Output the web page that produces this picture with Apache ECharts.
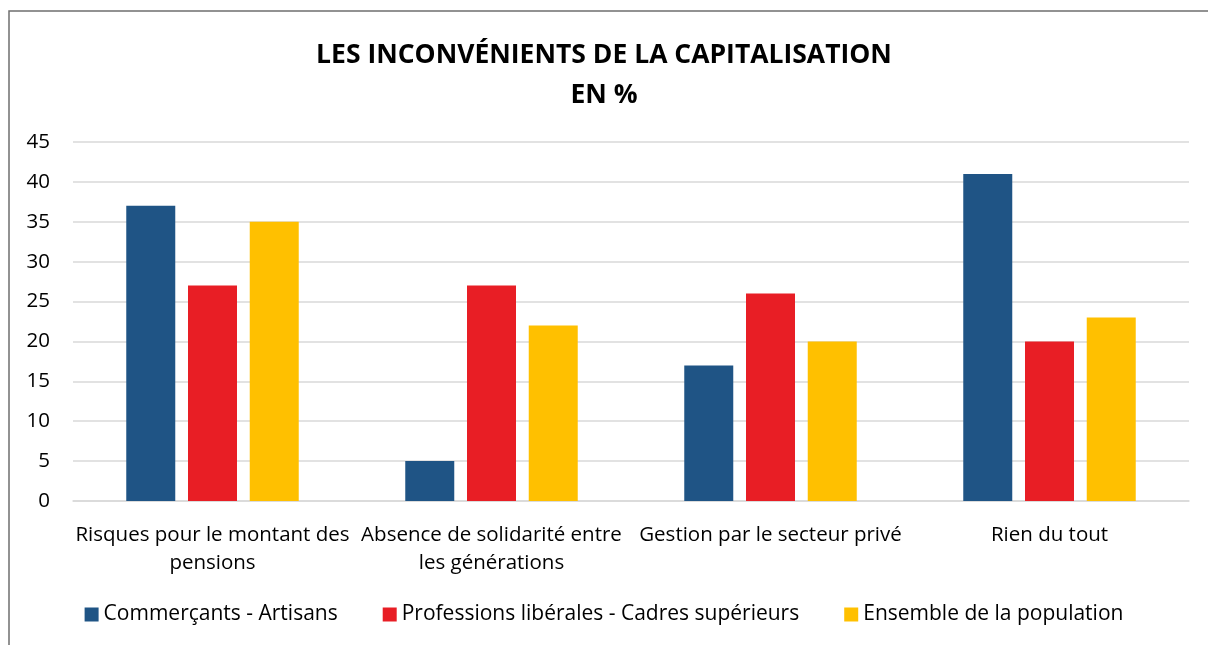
<!DOCTYPE html>
<html lang="fr">
<head>
    <meta charset="UTF-8" />
    <title>Les inconvénients de la capitalisation</title>
    <script src="https://cdn.jsdelivr.net/npm/echarts@6/dist/echarts.min.js"></script>
    <style>
        html, body { margin: 0; padding: 0; background: #fff; }
        #main { width: 1208px; height: 645px; }
    </style>
</head>
<body>
<div id="main"></div>
<script>
// données
let categories = [
    "Risques pour le montant des\npensions",
    "Absence de solidarité entre\nles générations",
    "Gestion par le secteur privé",
    "Rien du tout"
];
let commercants = [37, 5, 17, 41];
let professions = [27, 27, 26, 20];
let ensemble = [35, 22, 20, 23];
let seriesNames = [
    "Commerçants - Artisans",
    "Professions libérales - Cadres supérieurs",
    "Ensemble de la population"
];

let font = "Open Sans";
let myChart = echarts.init(document.getElementById('main'));

let titleStyle = {
    fontFamily: font,
    fontWeight: 'bold',
    fontSize: 26.5,
    color: '#000'
};

myChart.setOption({
    animation: false,
    textStyle: { fontFamily: font },
    color: ['#1F5485', '#E81E25', '#FFC000'],
    title: [
        { text: "LES INCONVÉNIENTS DE LA CAPITALISATION", left: 'center', top: 37, textStyle: titleStyle },
        { text: "EN %", left: 'center', top: 77, textStyle: titleStyle }
    ],
    // cadre du graphique
    graphic: [{
        type: 'rect',
        shape: { x: 9, y: 11, width: 1300, height: 700 },
        style: { fill: 'none', stroke: '#6f6f6f', lineWidth: 1.5 },
        silent: true
    }],
    grid: {
        left: 73,
        right: 19,
        top: 142,
        bottom: 144
    },
    legend: {
        bottom: 15,
        left: 'center',
        itemWidth: 14,
        itemHeight: 14,
        itemGap: 45,
        icon: 'rect',
        textStyle: { fontFamily: font, fontSize: 21, color: '#000' },
        data: seriesNames
    },
    xAxis: {
        type: 'category',
        data: categories,
        axisLine: { lineStyle: { color: '#d9d9d9', width: 1.5 } },
        axisTick: { show: false },
        axisLabel: {
            fontFamily: font,
            fontSize: 20.5,
            color: '#000',
            lineHeight: 28,
            margin: 20,
            interval: 0
        }
    },
    yAxis: {
        type: 'value',
        min: 0,
        max: 45,
        interval: 5,
        axisLine: { show: false },
        axisTick: { show: false },
        splitLine: { lineStyle: { color: '#d9d9d9', width: 1.5 } },
        axisLabel: {
            fontFamily: font,
            fontSize: 20.5,
            color: '#000',
            margin: 23
        }
    },
    series: [
        {
            name: seriesNames[0],
            type: 'bar',
            data: commercants,
            barWidth: 49,
            barGap: '26%'
        },
        {
            name: seriesNames[1],
            type: 'bar',
            data: professions,
            barWidth: 49,
            barGap: '26%'
        },
        {
            name: seriesNames[2],
            type: 'bar',
            data: ensemble,
            barWidth: 49,
            barGap: '26%'
        }
    ]
});
</script>
</body>
</html>
